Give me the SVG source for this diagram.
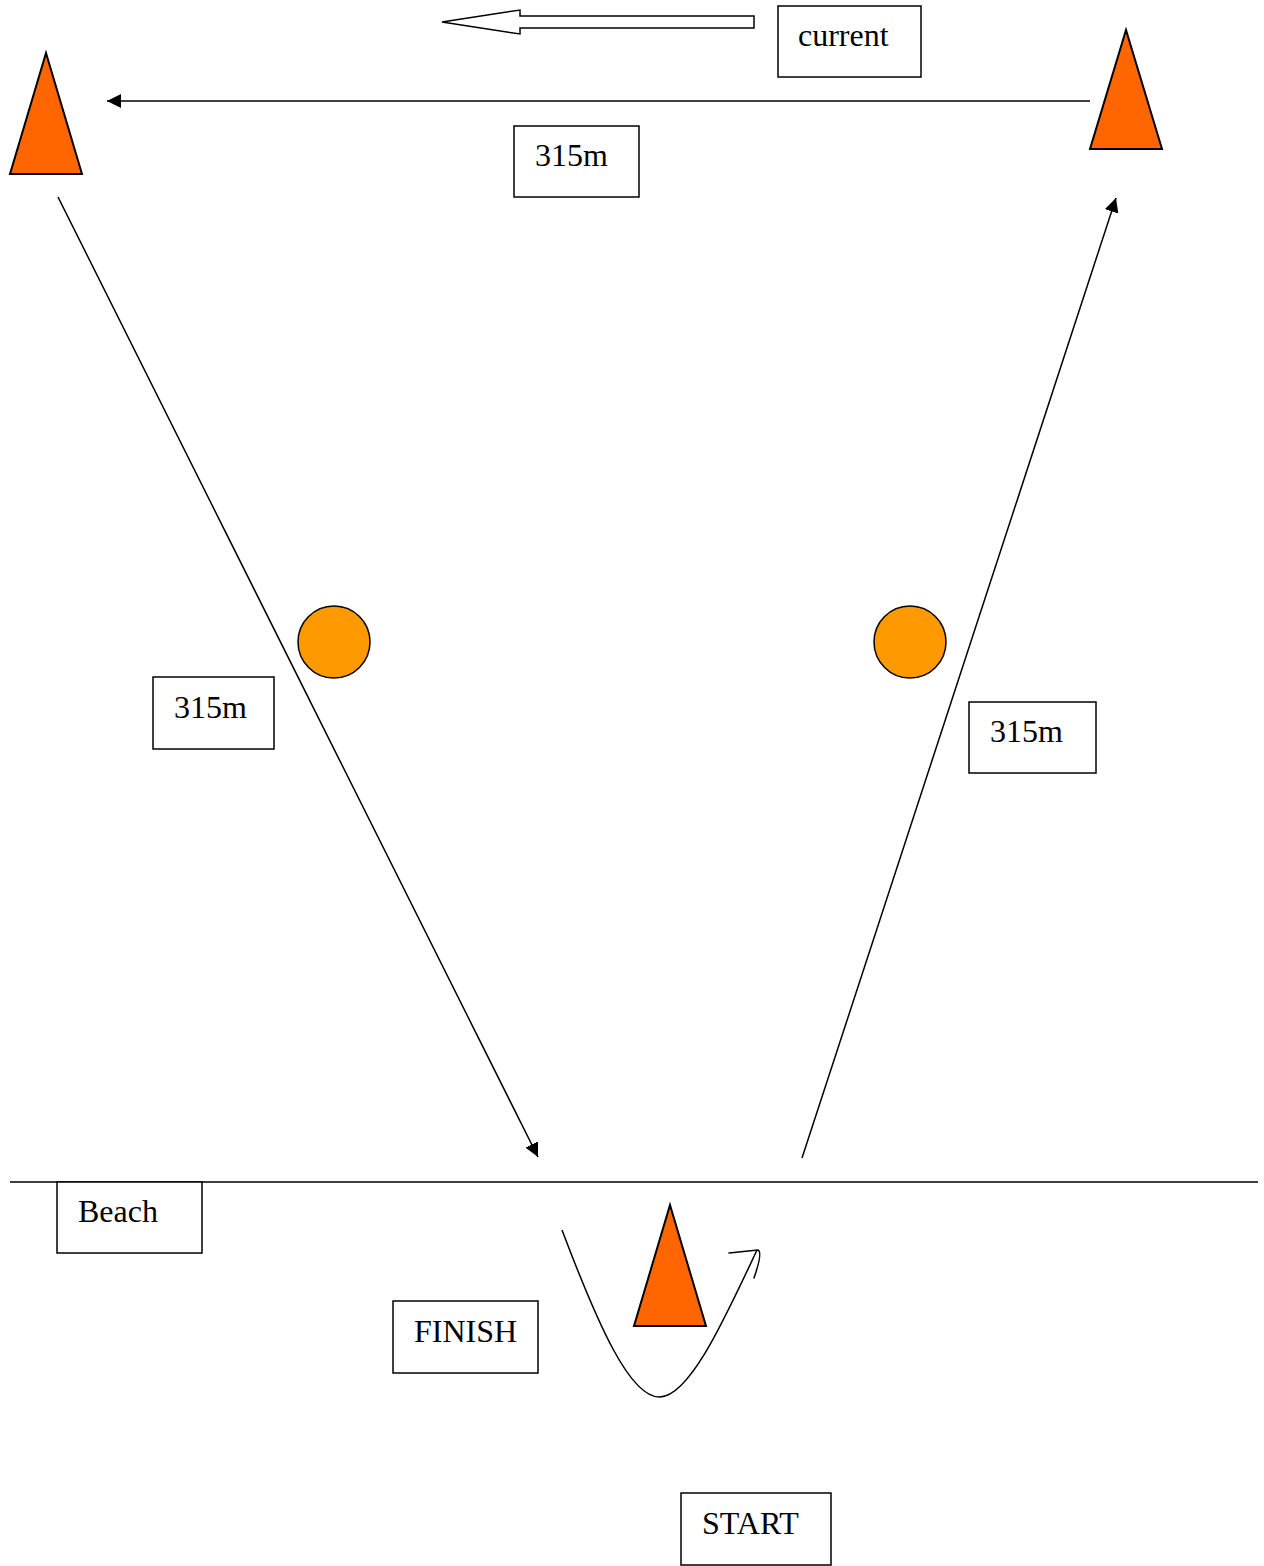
<svg xmlns="http://www.w3.org/2000/svg" width="1264" height="1566" viewBox="0 0 1264 1566">
<defs>
<style>
.box{fill:#fff;stroke:#000;stroke-width:1.5}
.lbl{font-family:"Liberation Serif","Times New Roman",serif;font-size:32px;fill:#000}
.cone{fill:#FF6600;stroke:#000;stroke-width:2;stroke-linejoin:miter}
.buoy{fill:#FF9900;stroke:#000;stroke-width:1.5}
.ln{stroke:#000;stroke-width:1.5;fill:none}
</style>
<marker id="ah2" viewBox="0 0 10 10" refX="10" refY="5" markerWidth="14" markerHeight="14" markerUnits="userSpaceOnUse" orient="auto">
<path d="M0,0 L10,5 L0,10 z" fill="#000"/>
</marker>
</defs>
<rect width="1264" height="1566" fill="#fff"/>
<g id="connectors">
<line class="ln" x1="1090" y1="101" x2="107" y2="101" marker-end="url(#ah2)"/>
<line class="ln" x1="58" y1="197" x2="538" y2="1157" marker-end="url(#ah2)"/>
<line class="ln" x1="802" y1="1158" x2="1116" y2="198" marker-end="url(#ah2)"/>
<line class="ln" x1="10" y1="1182" x2="1258" y2="1182" stroke-width="2"/>
<path class="ln" stroke-width="2" d="M562,1230 C598,1325 630,1398 660,1397 C690,1396 725,1318 757,1250"/>
<path class="ln" stroke-width="2.5" stroke-linecap="round" d="M729,1253 L758,1250 Q763,1252 754,1278"/>
</g>
<g id="current-arrow">
<path d="M754,16 L520,16 L520,10 L442,22 L520,34 L520,28 L754,28 z" fill="#fff" stroke="#000" stroke-width="1.5"/>
</g>
<g id="current">
<rect class="box" x="778" y="6" width="143" height="71"/>
<text class="lbl" x="798" y="46">current</text>
</g>
<g id="cone-left"><polygon class="cone" points="46,53 10,174 82,174"/></g>
<g id="cone-right"><polygon class="cone" points="1126,30 1090,149 1162,149"/></g>
<g id="cone-bottom"><polygon class="cone" points="670,1205 634,1326 706,1326"/></g>
<g id="buoy-left"><circle class="buoy" cx="334" cy="642" r="36"/></g>
<g id="buoy-right"><circle class="buoy" cx="910" cy="642" r="36"/></g>
<g id="dist-top">
<rect class="box" x="514" y="126" width="125" height="71"/>
<text class="lbl" x="535" y="166">315m</text>
</g>
<g id="dist-left">
<rect class="box" x="153" y="677" width="121" height="72"/>
<text class="lbl" x="174" y="718">315m</text>
</g>
<g id="dist-right">
<rect class="box" x="969" y="702" width="127" height="71"/>
<text class="lbl" x="990" y="742">315m</text>
</g>
<g id="beach">
<rect class="box" x="57" y="1182" width="145" height="71"/>
<text class="lbl" x="78" y="1222">Beach</text>
</g>
<g id="finish">
<rect class="box" x="393" y="1301" width="145" height="72"/>
<text class="lbl" x="414" y="1342">FINISH</text>
</g>
<g id="start">
<rect class="box" x="681" y="1493" width="150" height="72"/>
<text class="lbl" x="702" y="1534">START</text>
</g>
</svg>
